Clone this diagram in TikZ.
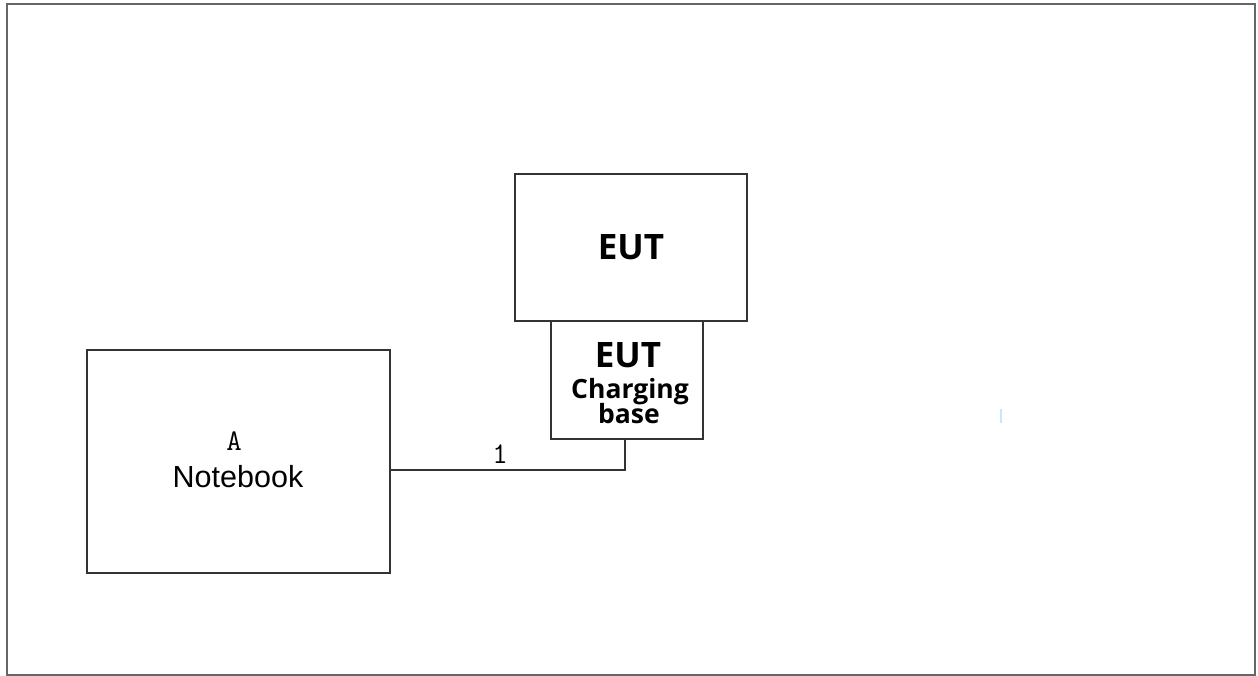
\documentclass[tikz,border=0pt]{standalone}
\usepackage{fontspec}
\newfontfamily\nsans{Open Sans}
\newfontfamily\arialf{Liberation Sans}
\begin{document}
\begin{tikzpicture}[x=1pt,y=-1pt,
  boxst/.style={draw=black!80,line width=1.5pt,inner sep=0pt,outer sep=0pt},
  eutfont/.style={font=\nsans\bfseries\fontsize{35}{35}\selectfont},
  basefont/.style={font=\nsans\bfseries\fontsize{26.5}{26.5}\selectfont},
  monolbl/.style={font=\ttfamily\fontsize{30}{30}\selectfont,inner sep=0pt,anchor=base},
  wire/.style={draw=black!80,line width=1.5pt}]
\useasboundingbox (0,0) rectangle (1258,675);
\draw[black!60,line width=2pt] (6.5,4) rectangle (1254.5,674.5);
% boxes
\node[boxst,minimum width=303pt,minimum height=223pt] (nb) at (238.5,461.5) {};
\node[boxst,eutfont,minimum width=232pt,minimum height=147pt] (eut) at (631,247.5) {EUT};
\node[boxst,minimum width=152pt,minimum height=118pt] (base) at (627,380) {};
% texts
\node[monolbl] (la) at (234,450) {A};
\node[font=\arialf\fontsize{30.5}{30.5}\selectfont,inner sep=0pt,anchor=base] (lnb) at (238,487) {Notebook};
\node[eutfont,inner sep=0pt,anchor=base] (leut) at (628,367) {EUT};
\node[basefont,inner sep=0pt,anchor=base] (lch) at (630,398) {Charging};
\node[basefont,inner sep=0pt,anchor=base] (lbs) at (629,423) {base};
% connector
\coordinate (bend) at (625,470);
\draw[wire] (nb.east |- bend) -- (bend) -- (bend |- base.south);
\node[monolbl] (l1) at (500,463) {1};
% small cyan mark
\draw[cyan!25,line width=2pt] (1000.5,409) -- (1000.5,423);
\end{tikzpicture}
\end{document}
